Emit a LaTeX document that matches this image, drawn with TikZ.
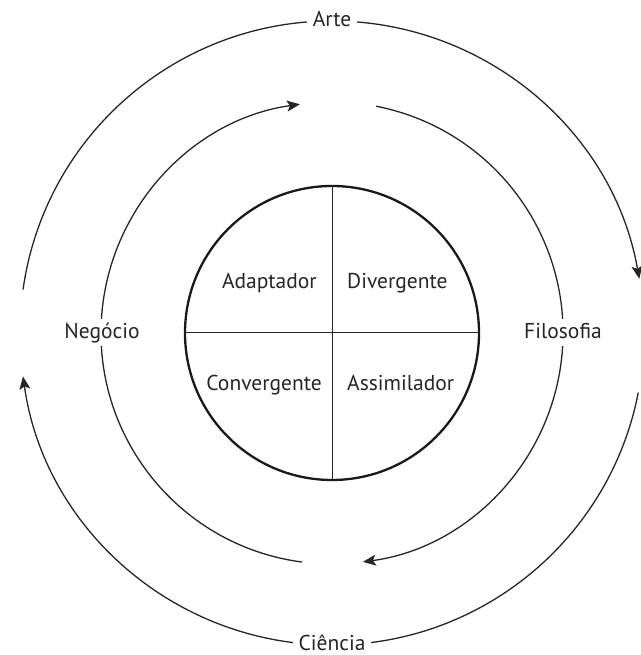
\documentclass[tikz,border=0pt]{standalone}
\usepackage{fontspec}
\setmainfont{PT Sans}
\usetikzlibrary{arrows.meta}
\begin{document}
\begin{tikzpicture}[x=1pt,y=1pt,
  ring/.style={line width=1.3pt, draw=black!85},
  tipped/.style={-{Stealth[length=13pt,width=11pt,inset=3pt]}},
  lbl/.style={font=\fontsize{21.5}{24}\selectfont, text=black!85, inner sep=0pt,
              text height=15pt, text depth=4pt},
  ringlbl/.style={lbl, fill=white, inner xsep=6pt, inner ysep=4pt}]
\useasboundingbox (0,0) rectangle (640,655);
\coordinate (C) at (332,322);

% outer ring (r = 312), clockwise flow
\draw[ring,tipped] ([shift={(C)}]270:312) arc[start angle=270,end angle=188,radius=312];
\draw[ring] ([shift={(C)}]172:312) arc[start angle=172,end angle=90,radius=312];
\draw[ring,tipped] ([shift={(C)}]90:312) arc[start angle=90,end angle=10,radius=312];
\draw[ring] ([shift={(C)}]-11:312) arc[start angle=-11,end angle=-90,radius=312];

% middle ring (r = 231)
\draw[ring,tipped] ([shift={(C)}]262.5:231) arc[start angle=262.5,end angle=98,radius=231];
\draw[ring,tipped] ([shift={(C)}]79:231) arc[start angle=79,end angle=-82.3,radius=231];

% central circle split into four quadrants
\node[draw=black!90, circle, line width=2.3pt, minimum size=294pt, inner sep=0pt] (core) at (C) {};
\draw[line width=1pt, black!85] (core.west) -- (core.east);
\draw[line width=1pt, black!85] (core.north) -- (core.south);

\node[lbl, anchor=east] (adap) at (317,372) {Adaptador};
\node[lbl, anchor=west] (div) at (347,372) {Divergente};
\node[lbl, anchor=east] (conv) at (322,270) {Convergente};
\node[lbl, anchor=west] (assim) at (347,270) {Assimilador};

% labels sitting on the rings
\node[ringlbl] (arte) at ([shift={(C)}]90:312) {Arte};
\node[ringlbl] (ciencia) at ([shift={(C)}]270:312) {Ciência};
\node[ringlbl] (negocio) at ([shift={(C)}]180:230) {Negócio};
\node[ringlbl] (filosofia) at ([shift={(C)}]0:231) {Filosofia};
\end{tikzpicture}
\end{document}
